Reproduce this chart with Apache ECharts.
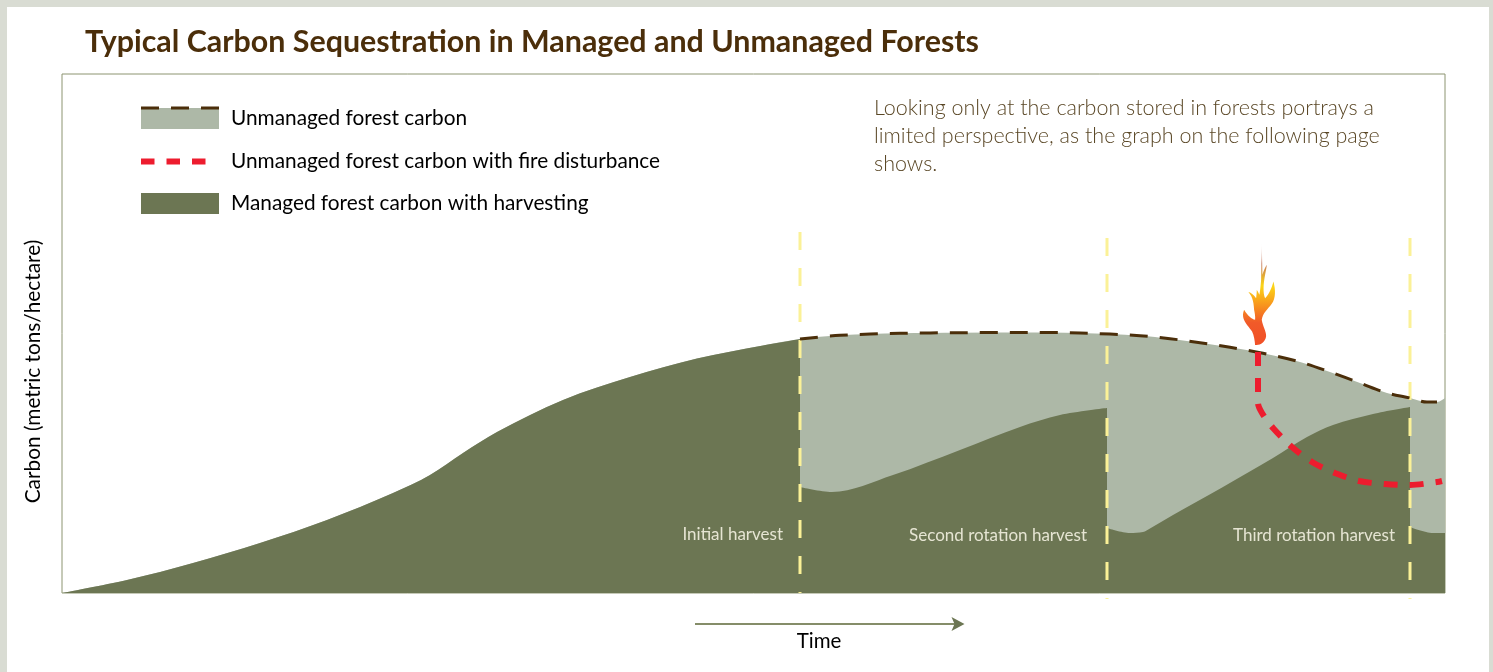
<!DOCTYPE html>
<html>
<head>
<meta charset="utf-8">
<style>
html,body{margin:0;padding:0;width:1493px;height:672px;overflow:hidden;background:#d9dcd3}
#panel{position:absolute;left:7px;top:7px;width:1482px;height:665px;background:#fff}
#chart{position:absolute;left:0;top:0;width:1493px;height:672px}
</style>
</head>
<body>
<div id="panel"></div>
<div id="chart"></div>
<script src="https://cdn.jsdelivr.net/npm/echarts@6/dist/echarts.min.js"></script>
<script>
const titleText = 'Typical Carbon Sequestration in Managed and Unmanaged Forests';
const noteText = 'Looking only at the carbon stored in forests portrays a\nlimited perspective, as the graph on the following page\nshows.';
const yAxisName = 'Carbon (metric tons/hectare)';
const xAxisName = 'Time';
const unmanagedName = 'Unmanaged forest carbon';
const fireName = 'Unmanaged forest carbon with fire disturbance';
const managedName = 'Managed forest carbon with harvesting';

const growthX = [0,65,131,198,265,331,368,401,435,501,568,635,701,738];
const growthY = [0,13,30,50,73,100,118,140,161,193,216,234.5,247.5,254];
const unmanagedX = [738,778,838,898,958,1018,1078,1108,1138,1168,1201,1238,1268,1298,1325,1348,1365,1375,1383];
const unmanagedY = [254,257.7,259.7,260.3,260.5,260,257.3,254.3,250.3,245.7,239.7,231,221,210,200,195,191,191,195];
const rotation2X = [738,770,831,898,958,998,1045];
const rotation2Y = [106,101,118,143,166,178,185];
const rotation3X = [1045,1068,1081,1088,1111,1161,1211,1245,1271,1311,1348];
const rotation3Y = [65,60,61,64.5,78,106,135,156,168,179,186];
const rotation4X = [1348,1371,1383];
const rotation4Y = [66,60,60];
const fireX = [1196,1196,1200,1211,1230,1250,1273,1297,1323,1348,1375,1380];
const fireY = [241,190,180,165,146,131,120,112,109,108,111,112];
const harvestNames = ['Initial harvest','Second rotation harvest','Third rotation harvest'];
const harvestX = [738,1045,1348];
const harvestTop = [361,355,355];
const harvestBottom = [0,-6,-6];
const harvestLabelX = [721,1025,1333];
const harvestLabelY = [58,57,57];
const fireMarkX = [1197];
const fireMarkY = [248];
const timeArrowX = [633,896];
const timeArrowY = [-31,-31];

const zip = (xs, ys) => xs.map((x, i) => [x, ys[i]]);
const LIGHT = '#adb8a7', DARK = '#6c7653', BROWN = '#4b2e0a', RED = '#ed1c2e', YELLOW = '#fbf197';
const FONT = 'Lato, "Open Sans", sans-serif';
const SMOOTH = 0.33;

const flamePath = 'path://M225 345C240 347 255 338 258 320C259 305 248 290 245 270C248 250 262 240 275 222C287 205 287 180 280 155C276 172 266 195 255 205C248 190 250 160 255 135C258 120 260 110 260 105C254 115 250 125 247 135L245 40L243 150C242 165 240 185 238 195C235 188 232 183 230 180C230 190 229 198 228 205C222 197 213 189 205 187C214 198 221 210 222 240C224 250 226 260 225 270C215 268 203 258 192 240C188 250 188 258 190 265C194 280 208 292 216 305C222 318 224 332 225 345Z';
const redIcon = 'path://M0 0L0 0ZM78 21L78 21ZM0 8H13.5V14H0ZM25.5 8H39V14H25.5ZM51 8H64.5V14H51Z';

const managedSeries = (xs, ys) => ({
  type: 'line', name: managedName, data: zip(xs, ys), smooth: SMOOTH, showSymbol: false,
  lineStyle: {width: 0}, itemStyle: {color: DARK}, areaStyle: {color: DARK, opacity: 1}, z: 3, silent: true
});

const series = [
  {type: 'line', name: unmanagedName, data: zip(growthX, growthY).concat(zip(unmanagedX, unmanagedY).slice(1)),
   smooth: SMOOTH, showSymbol: false, lineStyle: {width: 0}, itemStyle: {color: LIGHT},
   areaStyle: {color: LIGHT, opacity: 1}, z: 2, silent: true},
  managedSeries(growthX, growthY),
  managedSeries(rotation2X, rotation2Y),
  managedSeries(rotation3X, rotation3Y),
  managedSeries(rotation4X, rotation4Y),
  ...harvestX.map((x, i) => ({
    type: 'line', data: [[x, harvestTop[i]], [x, harvestBottom[i]]], showSymbol: false, clip: false,
    lineStyle: {color: YELLOW, width: 3, type: [18, 18]}, z: 4, silent: true
  })),
  {type: 'line', data: zip(unmanagedX, unmanagedY).slice(0, -1), smooth: SMOOTH, showSymbol: false,
   lineStyle: {color: BROWN, width: 3, type: [18, 12]}, z: 5, silent: true},
  {type: 'line', name: fireName, data: zip(fireX, fireY), smooth: 0.3, showSymbol: false,
   lineStyle: {color: RED, width: 6, type: [14, 12]}, itemStyle: {color: RED}, z: 6, silent: true},
  {type: 'scatter', data: zip(fireMarkX, fireMarkY), symbol: flamePath, symbolSize: [32, 102],
   symbolOffset: [0, -51], z: 6, silent: true,
   itemStyle: {opacity: 1, color: {type: 'linear', x: 0, y: 0, x2: 0, y2: 1, colorStops: [
     {offset: 0, color: 'rgba(240,220,215,0.2)'}, {offset: 0.2, color: '#c4765a'},
     {offset: 0.42, color: '#fcd616'}, {offset: 0.6, color: '#f8981d'},
     {offset: 0.78, color: '#f15a29'}, {offset: 1, color: '#f15027'}]}}},
  {type: 'scatter', data: harvestNames.map((n, i) => ({name: n, value: [harvestLabelX[i], harvestLabelY[i]]})),
   symbolSize: 0, z: 7, silent: true, itemStyle: {opacity: 1},
   label: {show: true, position: 'left', distance: 0, formatter: '{b}', color: '#e6e5d3', fontSize: 17, fontFamily: FONT}},
  {type: 'line', clip: false, showSymbol: true, z: 7, silent: true,
   data: [{value: [timeArrowX[0], timeArrowY[0]], symbol: 'none'},
          {value: [timeArrowX[1], timeArrowY[1]], symbol: 'path://M0 0L13 7L0 14L3 7Z', symbolSize: [13, 14]}],
   lineStyle: {color: '#858d69', width: 2}, itemStyle: {color: DARK}}
];

const chart = echarts.init(document.getElementById('chart'), null, {renderer: 'canvas'});
chart.setOption({
  animation: false,
  title: [
    {text: titleText, left: 85, top: 27, padding: 0, textStyle: {color: '#4b2e0a', fontSize: 30.4, fontWeight: 700, fontFamily: FONT}},
    {text: noteText, left: 874, top: 94, padding: 0, textStyle: {color: '#5a4726', fontSize: 21.5, fontWeight: 300, lineHeight: 28, fontFamily: FONT}}
  ],
  grid: {left: 62, right: 48, top: 74, bottom: 79, show: true, backgroundColor: 'transparent', borderColor: '#8c9470', borderWidth: 1},
  xAxis: {type: 'value', min: 0, max: 1383, axisLine: {show: false}, axisTick: {show: false}, axisLabel: {show: false}, splitLine: {show: false},
    name: xAxisName, nameLocation: 'middle', nameGap: 38, nameTextStyle: {color: '#000', fontSize: 20.5, fontFamily: FONT, padding: [0, 0, 0, 131]}},
  yAxis: {type: 'value', min: 0, max: 519, axisLine: {show: false}, axisTick: {show: false}, axisLabel: {show: false}, splitLine: {show: false},
    name: yAxisName, nameLocation: 'middle', nameGap: 18, nameTextStyle: {color: '#000', fontSize: 20.8, fontFamily: FONT, padding: [0, 76, 0, 0]}},
  legend: {
    orient: 'vertical', left: 141, top: 108, padding: 0, itemWidth: 78, itemHeight: 21, itemGap: 21.5, selectedMode: false,
    textStyle: {color: '#000', fontSize: 20.8, fontFamily: FONT, padding: [6, 0, 0, 7]},
    data: [{name: unmanagedName, icon: 'rect'}, {name: fireName, icon: redIcon}, {name: managedName, icon: 'rect'}]
  },
  graphic: [{type: 'line', z: 10, silent: true, shape: {x1: 141, y1: 108, x2: 219, y2: 108},
    style: {stroke: BROWN, lineWidth: 3, lineDash: [18, 12]}}],
  series
});
</script>
</body>
</html>
